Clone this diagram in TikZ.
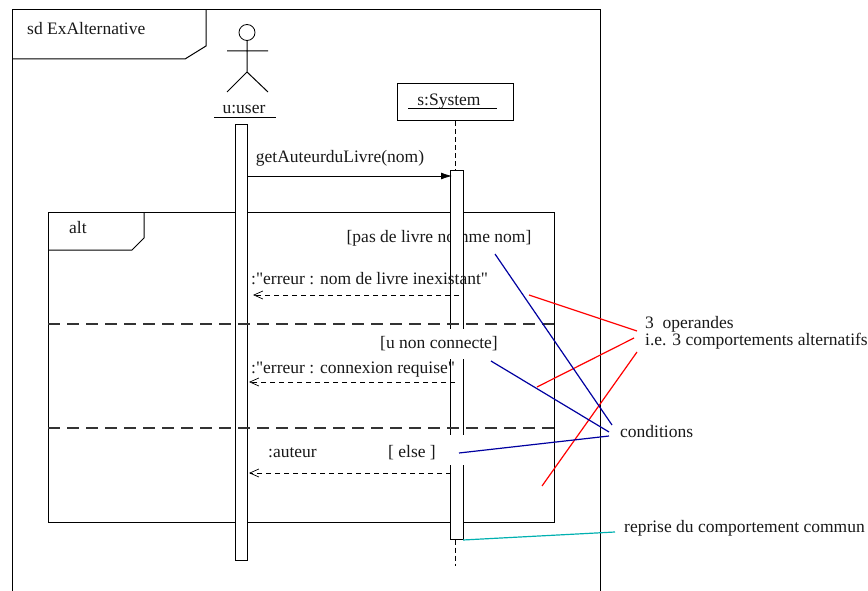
\documentclass[tikz,border=0pt]{standalone}
\usepackage{fontspec}
\newfontfamily\lblfont{Liberation Serif}
\usetikzlibrary{arrows.meta}
\definecolor{navyl}{RGB}{0,0,160}
\definecolor{redl}{RGB}{255,0,0}
\definecolor{cyanl}{RGB}{0,176,176}
\tikzset{
 x=1pt,y=-1pt,
 ln/.style={draw=black,line width=1pt},
 lbl/.style={font=\lblfont\fontsize{17.5}{17.4}\selectfont,inner sep=0pt,text=black!90},
 masklbl/.style={lbl,fill=white,inner xsep=2pt,inner ysep=1pt},
 bar/.style={draw=black,fill=white,line width=1pt},
 sep/.style={draw=black!80,line width=1.3pt,dash pattern=on 12pt off 7pt},
 life/.style={draw=black,line width=.8pt,dash pattern=on 5pt off 3pt},
 ret/.style={draw=black,line width=.8pt,dash pattern=on 5pt off 4pt,-{Straight Barb[length=9pt,width=8pt,line width=.7pt]}},
 call/.style={draw=black,line width=.8pt,-{Latex[length=11pt,width=7pt]}},
 cn/.style={line width=1.2pt,draw=navyl},
 cr/.style={line width=1.2pt,draw=redl},
 cc/.style={line width=1.2pt,draw=cyanl},
}
\begin{document}
\begin{tikzpicture}
\useasboundingbox (0,0) rectangle (868,591);
% outer frame
\draw[ln] (12,591) -- (12,10) -- (600,10) -- (600,591);
\draw[ln] (12,59) -- (185,59) -- (206,46) -- (206,10);
\node[lbl,anchor=west] (sdname) at (27,29) {sd ExAlternative};
% actor
\node[circle,draw=black,line width=.8pt,minimum size=16pt,inner sep=0pt] (head) at (247,32.5) {};
\coordinate (hip) at (247,72);
\coordinate (armL) at (227,51);
\coordinate (armR) at (268,51);
\coordinate (legL) at (227,92);
\coordinate (legR) at (268,92);
\draw[ln] (head.south) -- (hip) (armL) -- (armR) (legL) -- (hip) -- (legR);
\node[lbl] (user) at (244,110) {u:user};
\coordinate (ulA) at (214,117);
\coordinate (ulB) at (276,117);
\draw[line width=.8pt] (ulA) -- (ulB);
% system
\node[draw=black,line width=1pt,minimum width=116pt,minimum height=37pt,inner sep=0pt] (sys) at (455,102.5) {};
\node[lbl] (systxt) at (449,101.5) {s:System};
\coordinate (ulC) at (408,108.5);
\coordinate (ulD) at (497,108.5);
\draw[line width=.8pt] (ulC) -- (ulD);
% alt frame
\draw[ln] (48,212) rectangle (554,522);
\draw[ln] (48,250) -- (132,250) -- (144,238) -- (144,212);
\node[lbl,anchor=west] (altname) at (69,228) {alt};
\node[lbl] (g1) at (439,238) {[pas de livre nomme nom]};
% lifelines and activation bars
\coordinate (lifeEnd) at (455,566);
\node[bar,minimum width=12pt,minimum height=435pt,inner sep=0pt] (barU) at (241,342.5) {};
\node[bar,minimum width=13pt,minimum height=368pt,inner sep=0pt] (barS) at (456.5,355) {};
\draw[life] (sys.south) -- (barS.north -| sys.south);
\draw[life] (barS.south -| sys.south) -- (lifeEnd);
% separators
\coordinate (s1a) at (48,324); \coordinate (s1b) at (554,324);
\coordinate (s2a) at (48,428); \coordinate (s2b) at (554,428);
\draw[sep] (s1a) -- (s1b);
\draw[sep] (s2a) -- (s2b);
% guards
\node[masklbl,minimum height=30pt] (g2) at (439,343.5) {[u non connecte]};
\node[masklbl] (g3) at (412,453) {[ else ]};
\node[fill=white,inner sep=0pt,minimum width=16pt,minimum height=30pt] (g3m) at (456.5,450) {};
% messages
\node[lbl] (m1) at (340,158.5) {getAuteurduLivre(nom)};
\coordinate (c1a) at (247,176);
\coordinate (c1b) at (452,176);
\draw[call] (c1a) -- (c1b);
\node[lbl,anchor=west] (m2) at (251,279) {:"erreur : nom de livre inexistant"};
\coordinate (r1a) at (459,295); \coordinate (r1b) at (253,295);
\draw[ret] (r1a) -- (r1b);
\node[lbl,anchor=west] (m3) at (251,370) {:"erreur : connexion requise"};
\coordinate (r2a) at (455,382); \coordinate (r2b) at (249,382);
\draw[ret] (r2a) -- (r2b);
\node[lbl,anchor=west] (m4) at (268,453) {:auteur};
\coordinate (r3a) at (451,473); \coordinate (r3b) at (249,473);
\draw[ret] (r3a) -- (r3b);
% notes
\node[lbl,anchor=north west,align=left] (ops) at (645,316) {3\ \ operandes\\[0pt]i.e. 3 comportements alternatifs};
\node[lbl,anchor=west] (cond) at (620,432) {conditions};
\node[lbl,anchor=west] (rep) at (624,528) {reprise du comportement commun};
% note connectors
\coordinate (a1) at (529,295); \coordinate (a2) at (637,331);
\coordinate (a3) at (537,387); \coordinate (a4) at (634,338);
\coordinate (a5) at (542,486); \coordinate (a6) at (637,352);
\draw[cr] (a1) -- (a2);
\draw[cr] (a3) -- (a4);
\draw[cr] (a5) -- (a6);
\coordinate (b1) at (495,254); \coordinate (b2) at (612,425);
\coordinate (b3) at (491,361); \coordinate (b4) at (609,432);
\coordinate (b5) at (459,453); \coordinate (b6) at (609,436);
\draw[cn] (b1) -- (b2);
\draw[cn] (b3) -- (b4);
\draw[cn] (b5) -- (b6);
\coordinate (d1) at (463,540); \coordinate (d2) at (615,532);
\draw[cc] (d1) -- (d2);
\end{tikzpicture}
\end{document}
